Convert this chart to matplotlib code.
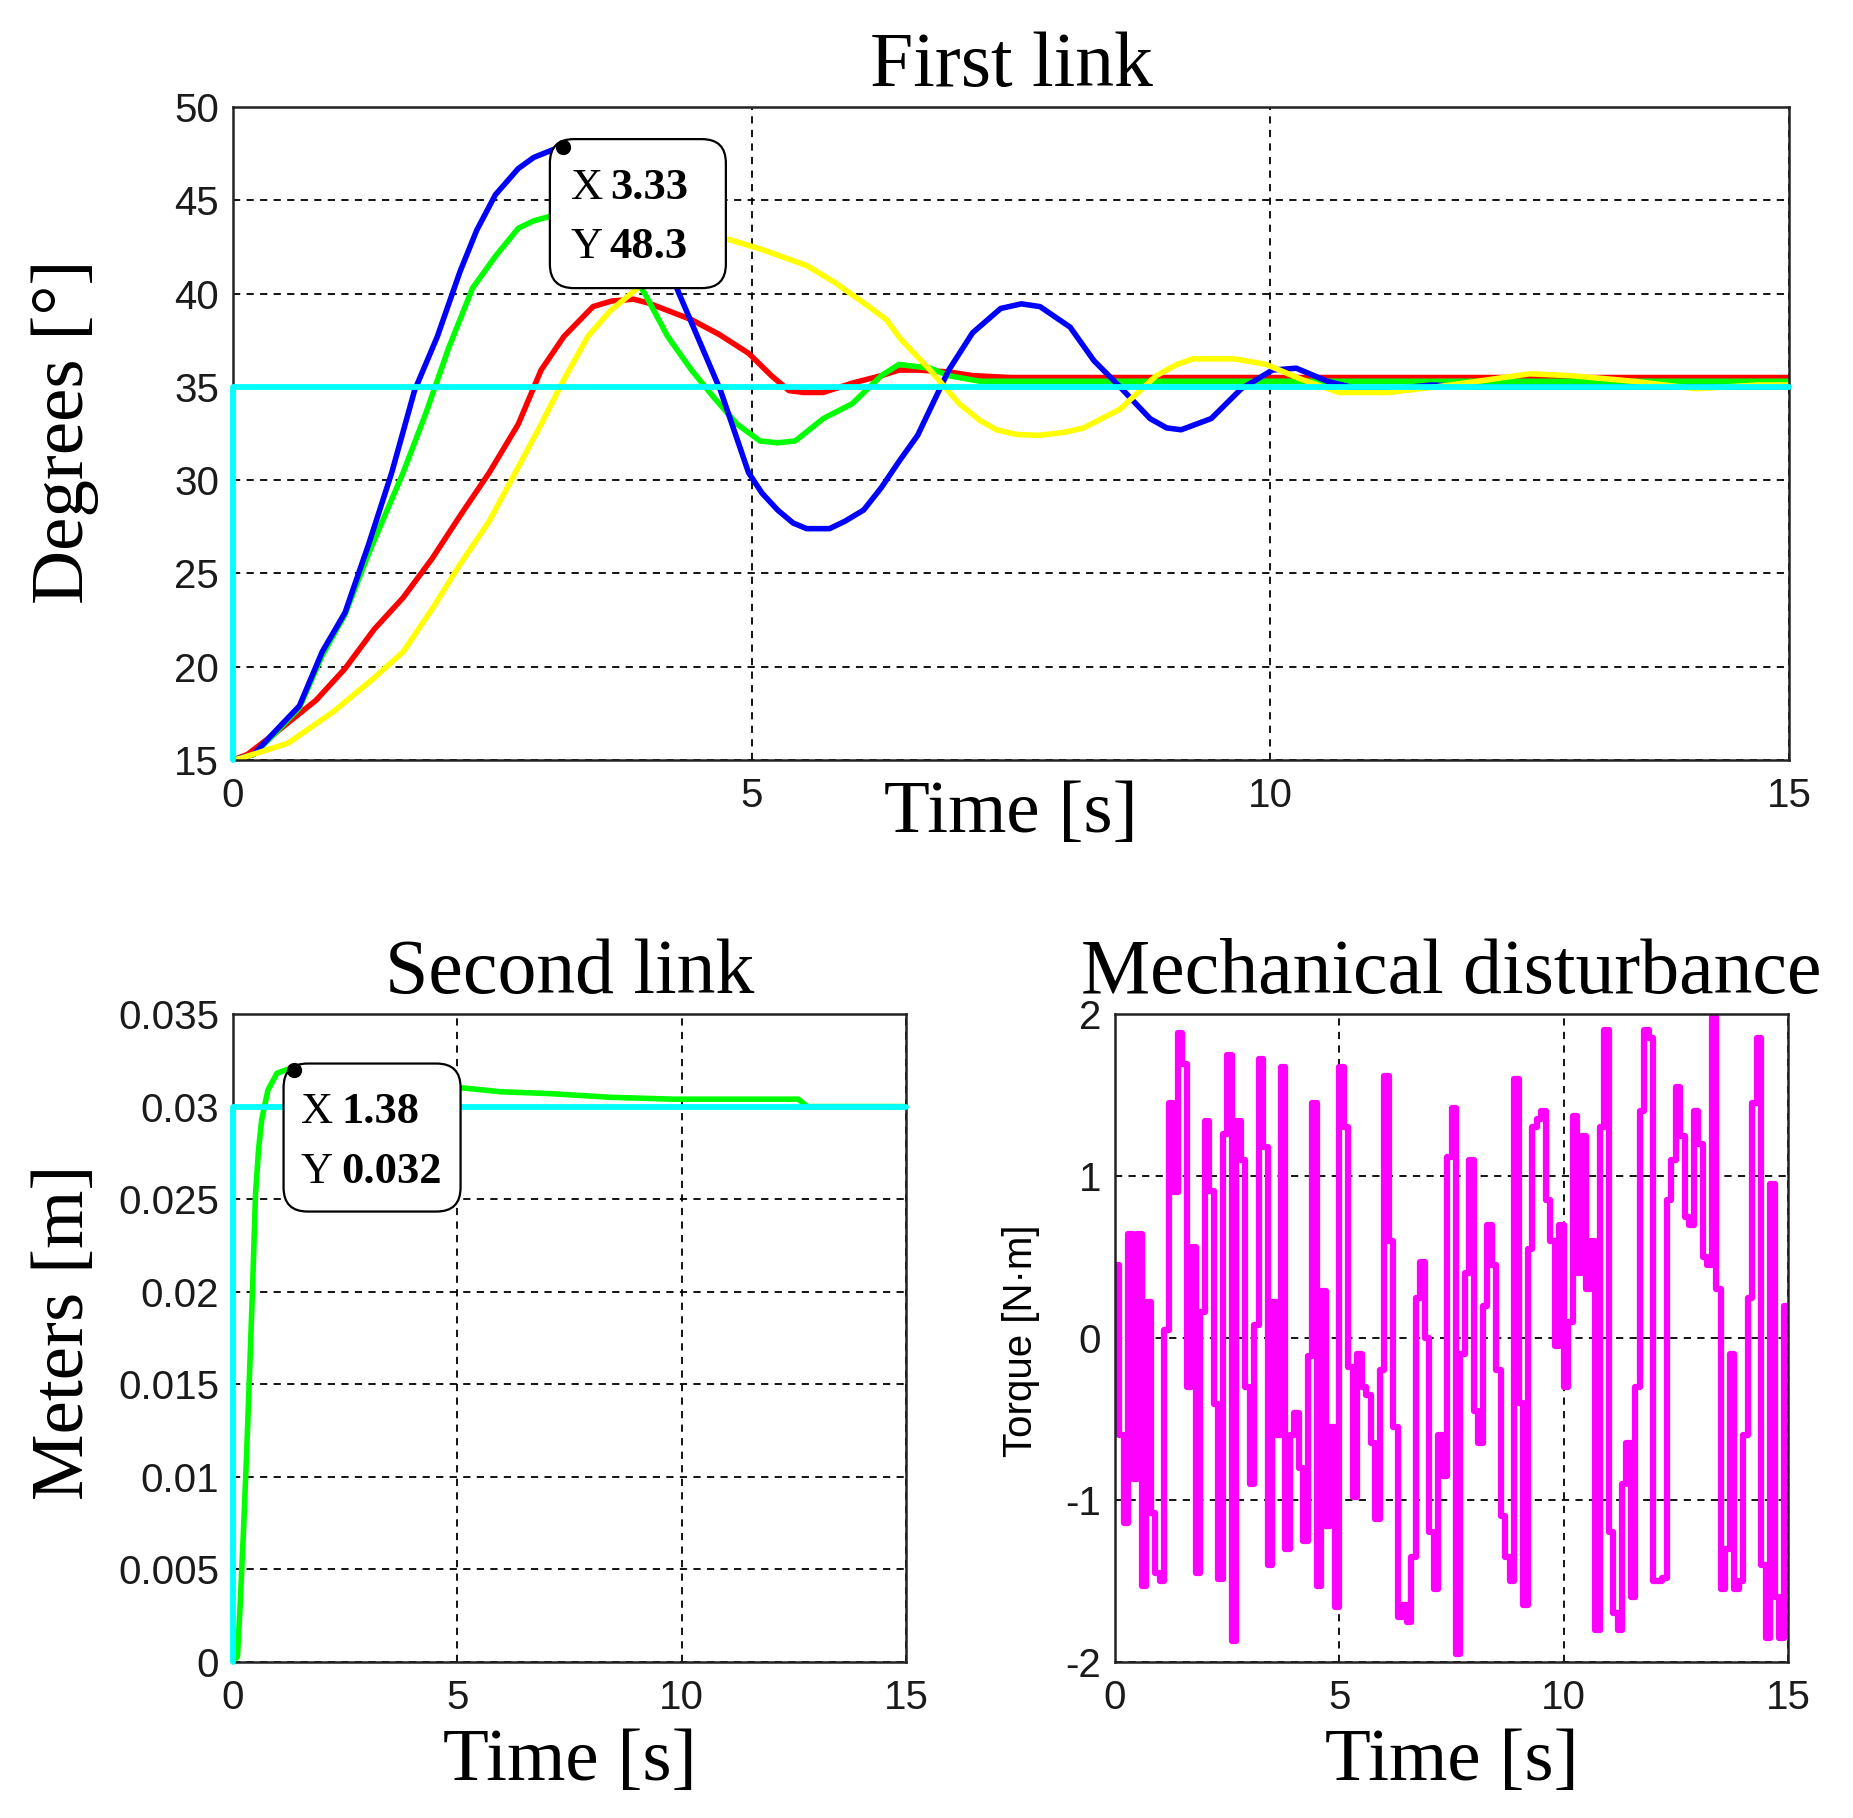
import numpy as np
import matplotlib
matplotlib.use("Agg")
import matplotlib.pyplot as plt
from matplotlib.patches import FancyBboxPatch
from matplotlib.transforms import Affine2D, ScaledTranslation

# ---------------- data: first link ----------------
blue_t = [0, 0.2, 0.4, 0.64, 0.86, 1.08, 1.31, 1.53, 1.75, 1.97, 2.19, 2.35, 2.53, 2.75, 2.9, 3.08,
          3.18, 3.4, 3.6, 3.9, 4.1, 4.3, 4.5, 4.7, 4.97, 5.1, 5.25, 5.4, 5.53, 5.75, 5.9, 6.08, 6.25,
          6.42, 6.6, 6.9, 7.13, 7.4, 7.6, 7.78, 8.07, 8.3, 8.55, 8.84, 9.0, 9.14, 9.43, 9.72, 10.02,
          10.25, 10.55, 10.84, 11.2, 11.55, 12, 13, 14, 15]
blue_y = [15, 15.3, 16.5, 17.9, 20.8, 22.9, 26.6, 30.4, 34.8, 37.7, 41.2, 43.4, 45.3, 46.7, 47.3, 47.7,
          47.85, 48.1, 47.6, 45.3, 42.8, 40.0, 37.4, 34.8, 30.4, 29.3, 28.4, 27.7, 27.4, 27.4, 27.8, 28.4, 29.6,
          31.0, 32.4, 35.9, 37.9, 39.2, 39.45, 39.3, 38.2, 36.4, 35.0, 33.3, 32.8, 32.7, 33.3, 34.9, 35.9,
          36.0, 35.3, 34.9, 34.9, 35.1, 35.0, 35.0, 35.0, 35.0]

green_t = [0, 0.2, 0.4, 0.64, 0.86, 1.08, 1.31, 1.64, 1.86, 2.08, 2.31, 2.53, 2.75, 2.9, 3.03, 3.25,
           3.6, 3.97, 4.19, 4.42, 4.64, 4.86, 5.08, 5.25, 5.42, 5.69, 5.97, 6.25, 6.42, 6.72, 6.9, 7.2,
           8, 9, 10, 11, 12, 13, 14, 15]
green_y = [15, 15.3, 16.4, 17.8, 20.6, 22.8, 26.1, 30.4, 33.6, 37.1, 40.3, 42.0, 43.5, 43.9, 44.1, 44.4,
           43.0, 40.0, 37.7, 35.9, 34.4, 33.0, 32.1, 32.0, 32.1, 33.3, 34.1, 35.6, 36.2, 36.0, 35.6, 35.3,
           35.3, 35.3, 35.3, 35.3, 35.3, 35.3, 35.3, 35.3]

red_t = [0, 0.14, 0.42, 0.8, 1.08, 1.36, 1.64, 1.92, 2.19, 2.47, 2.75, 2.97, 3.19, 3.47, 3.65, 3.86,
         4.0, 4.14, 4.42, 4.69, 4.97, 5.19, 5.36, 5.5, 5.69, 5.97, 6.25, 6.42, 6.6, 6.9, 7.13, 7.5, 8, 9,
         10, 11, 12, 13, 14, 15]
red_y = [15, 15.3, 16.5, 18.2, 19.9, 22.0, 23.7, 25.8, 28.1, 30.4, 33.0, 35.9, 37.7, 39.3, 39.6, 39.7,
         39.5, 39.2, 38.6, 37.8, 36.8, 35.6, 34.8, 34.7, 34.7, 35.2, 35.6, 35.9, 35.9, 35.8, 35.6, 35.5, 35.5, 35.5,
         35.5, 35.5, 35.5, 35.5, 35.5, 35.5]

yellow_t = [0, 0.08, 0.53, 0.97, 1.36, 1.64, 1.92, 2.19, 2.47, 2.75, 2.97, 3.19, 3.42, 3.64, 3.86,
            4.1, 4.4, 4.6, 4.78, 5.08, 5.53, 5.8, 6.08, 6.3, 6.43, 6.72, 7.0, 7.2, 7.36, 7.55, 7.76, 8.0,
            8.2, 8.55, 8.9, 9.1, 9.25, 9.66, 9.96, 10.3, 10.66, 11.13, 11.6, 12.0, 12.5, 12.9, 13.5, 14.1,
            14.7, 15]
yellow_y = [15, 15.1, 15.9, 17.6, 19.4, 20.8, 23.1, 25.5, 27.8, 30.7, 33.0, 35.4, 37.7, 39.1, 40.1,
            41.3, 42.6, 42.9, 42.9, 42.4, 41.5, 40.6, 39.5, 38.6, 37.6, 35.9, 34.1, 33.2, 32.7, 32.45, 32.4, 32.55,
            32.8, 33.8, 35.6, 36.2, 36.5, 36.5, 36.2, 35.4, 34.7, 34.7, 35.0, 35.3, 35.7, 35.6, 35.3, 34.9,
            35.1, 35.1]

ref1_t = [0, 0, 15]
ref1_y = [15, 35, 35]

tip1_pt = (3.18, 47.85)
tip1_txt = ("3.33", "48.3")

# ---------------- data: second link ----------------
link2_t = [0, 0.1, 0.16, 0.23, 0.3, 0.37, 0.44, 0.5, 0.57, 0.64, 0.78, 0.98, 1.2, 1.38, 1.8, 2.5,
           3.5, 4.5, 5.15, 5.97, 7.06, 8.43, 9.8, 11.84, 12.6, 12.8, 15]
link2_y = [0, 0.0003, 0.0031, 0.0069, 0.011, 0.0157, 0.0205, 0.0252, 0.0277, 0.0293, 0.0309, 0.0318,
           0.0320, 0.0320, 0.0318, 0.0315, 0.0313, 0.0311, 0.0310, 0.0308, 0.0307, 0.0305, 0.0304,
           0.0304, 0.0304, 0.0300, 0.0300]
ref2_t = [0, 0, 15]
ref2_y = [0, 0.03, 0.03]

tip2_pt = (1.35, 0.0320)
tip2_txt = ("1.38", "0.032")

# ---------------- data: mechanical disturbance (0.1 s hold) ----------------
dist_dt = 0.1
dist_vals = [
    0.45, -0.6, -1.14, 0.64, -0.87, 0.64, -1.53, 0.22, -1.08, -1.45,
    -1.5, 0.05, 1.45, 0.9, 1.88, 1.69, -0.3, 0.56, -1.45, 0.16,
    1.34, 0.91, -0.41, -1.49, 1.26, 1.75, -1.87, 1.34, 1.1, -0.3,
    -0.9, 0.08, 1.72, 1.18, -1.4, 0.22, -0.6, 1.67, -1.3, -0.6,
    -0.46, -0.8, -1.25, -0.11, 1.45, -1.53, 0.29, -1.16, -0.55, -1.66,
    1.67, 1.3, -0.18, -0.98, -0.1, -0.3, -0.35, -0.65, -1.12, -0.2,
    1.62, 0.6, -0.55, -1.72, -1.65, -1.75, -1.35, 0.25, 0.47, 0.0,
    -1.2, -1.55, -0.6, -0.85, 1.12, 1.42, -1.95, -0.1, 0.4, 1.1,
    -0.45, -0.65, 0.2, 0.7, 0.45, -0.2, -1.1, -1.35, -1.5, 1.6,
    -0.4, -1.65, 0.55, 1.3, 1.35, 1.4, 0.85, 0.6, -0.05, 0.7,
    -0.3, 0.1, 1.37, 0.4, 1.25, 0.3, 0.6, -1.8, 1.3, 1.9,
    -1.2, -1.7, -1.8, -0.9, -0.65, -1.6, -0.3, 1.4, 1.9, 1.85,
    -1.5, -1.5, -1.48, 0.85, 1.1, 1.55, 1.25, 0.75, 0.7, 1.4,
    1.2, 0.5, 0.45, 1.98, 0.3, -1.55, -1.3, -0.1, -1.55, -1.5,
    -0.6, 0.25, 1.45, 1.85, -1.4, -1.85, 0.95, -1.6, -1.85, 0.2,
    0.2,
]

# ---------------- styling ----------------
W, H = 1853, 1818
serif = ["Liberation Serif", "DejaVu Serif"]
sans = ["Liberation Sans", "DejaVu Sans"]
plt.rcParams["font.family"] = sans
plt.rcParams["axes.unicode_minus"] = False
plt.rcParams["lines.solid_joinstyle"] = "round"
plt.rcParams["lines.solid_capstyle"] = "round"

fig = plt.figure(figsize=(W / 100, H / 100), dpi=100)
ax1 = fig.add_axes([233 / W, 1 - 760 / H, 1556 / W, 653 / H])
ax2 = fig.add_axes([233 / W, 1 - 1662 / H, 673 / W, 648 / H])
ax3 = fig.add_axes([1115 / W, 1 - 1662 / H, 673 / W, 648 / H])

TITLE_FS = 56
LABEL_FS = 54
TICK_FS = 29


def style(ax):
    ax.set_axisbelow(True)
    ax.grid(True, color="black", linestyle=(0, (4, 3.5)), linewidth=1.3)
    for s in ax.spines.values():
        s.set_linewidth(1.8)
        s.set_color("#222222")
        s.set_zorder(20)
    ax.tick_params(axis="both", length=0, labelsize=TICK_FS, colors="#1a1a1a")
    ax.tick_params(axis="x", pad=12)
    ax.tick_params(axis="y", pad=10)


def datatip(ax, pt, txt, box, tx, nx, b1, b2):
    x, y = pt
    tr = Affine2D() + ScaledTranslation(x, y, ax.transData)
    bx, by, bw, bh = box
    ax.add_patch(FancyBboxPatch((bx, by), bw, bh,
                                boxstyle="round,pad=0,rounding_size=24",
                                transform=tr, fc="white", ec="black", lw=1.6,
                                zorder=25, clip_on=False))
    kw = dict(transform=tr, fontsize=32, family=serif, va="baseline", zorder=26,
              color="black")
    ax.text(tx, b1, "X", **kw)
    ax.text(nx, b1, txt[0], fontweight="bold", **kw)
    ax.text(tx, b2, "Y", **kw)
    ax.text(nx, b2, txt[1], fontweight="bold", **kw)
    ax.plot([x], [y], "o", color="black", ms=10, zorder=27, clip_on=False)


# ---- First link ----
style(ax1)
lw = 4.0
ax1.plot(red_t, red_y, color="#ff0000", lw=lw, zorder=3)
ax1.plot(green_t, green_y, color="#00ff00", lw=lw, zorder=4)
ax1.plot(blue_t, blue_y, color="#0000ff", lw=lw, zorder=5)
ax1.plot(yellow_t, yellow_y, color="#ffff00", lw=lw, zorder=6)
ax1.plot(ref1_t, ref1_y, color="#00ffff", lw=4.2, zorder=21, clip_on=False)
ax1.set_xticks([0, 5, 10, 15])
ax1.set_yticks([15, 20, 25, 30, 35, 40, 45, 50])
ax1.set_title("First link", fontsize=TITLE_FS, family=serif, pad=15)
ax1.set_xlabel("Time [s]", fontsize=LABEL_FS, family=serif)
ax1.xaxis.set_label_coords(0.5, -0.032)
ax1.set_ylabel("Degrees [°]", fontsize=LABEL_FS, family=serif, va="center")
ax1.yaxis.set_label_coords(-0.108, 0.502)
datatip(ax1, tip1_pt, tip1_txt, (-13, -141, 176, 149), 8, 47, -52, -111)
ax1.set_xlim(0, 15)
ax1.set_ylim(15, 50)

# ---- Second link ----
style(ax2)
ax2.plot(link2_t, link2_y, color="#00ff00", lw=4.0, zorder=4)
ax2.plot(ref2_t, ref2_y, color="#00ffff", lw=4.2, zorder=21, clip_on=False)
ax2.set_xticks([0, 5, 10, 15])
ax2.set_yticks([0, 0.005, 0.01, 0.015, 0.02, 0.025, 0.03, 0.035])
ax2.set_yticklabels(["0", "0.005", "0.01", "0.015", "0.02", "0.025", "0.03", "0.035"])
ax2.set_title("Second link", fontsize=TITLE_FS, family=serif, pad=15)
ax2.set_xlabel("Time [s]", fontsize=LABEL_FS, family=serif)
ax2.xaxis.set_label_coords(0.5, -0.103)
ax2.set_ylabel("Meters [m]", fontsize=LABEL_FS, family=serif, va="center")
ax2.yaxis.set_label_coords(-0.25, 0.509)
datatip(ax2, tip2_pt, tip2_txt, (-10, -142, 177, 148), 7, 48, -53, -113)
ax2.set_xlim(0, 15)
ax2.set_ylim(0, 0.035)

# ---- Mechanical disturbance ----
style(ax3)
dist_t = np.round(np.arange(len(dist_vals)) * dist_dt, 3)
ax3.plot(dist_t, dist_vals, color="#ff00ff", lw=4.5, drawstyle="steps-post", zorder=4)
ax3.set_xticks([0, 5, 10, 15])
ax3.set_yticks([-2, -1, 0, 1, 2])
ax3.set_title("Mechanical disturbance", fontsize=TITLE_FS, family=serif, pad=15)
ax3.set_xlabel("Time [s]", fontsize=LABEL_FS, family=serif)
ax3.xaxis.set_label_coords(0.5, -0.103)
ax3.set_ylabel("Torque [N·m]", fontsize=TICK_FS, family=sans, va="center")
ax3.yaxis.set_label_coords(-0.14, 0.495)
ax3.set_xlim(0, 15)
ax3.set_ylim(-2, 2)

fig.savefig("out.png", dpi=100, facecolor="white")
